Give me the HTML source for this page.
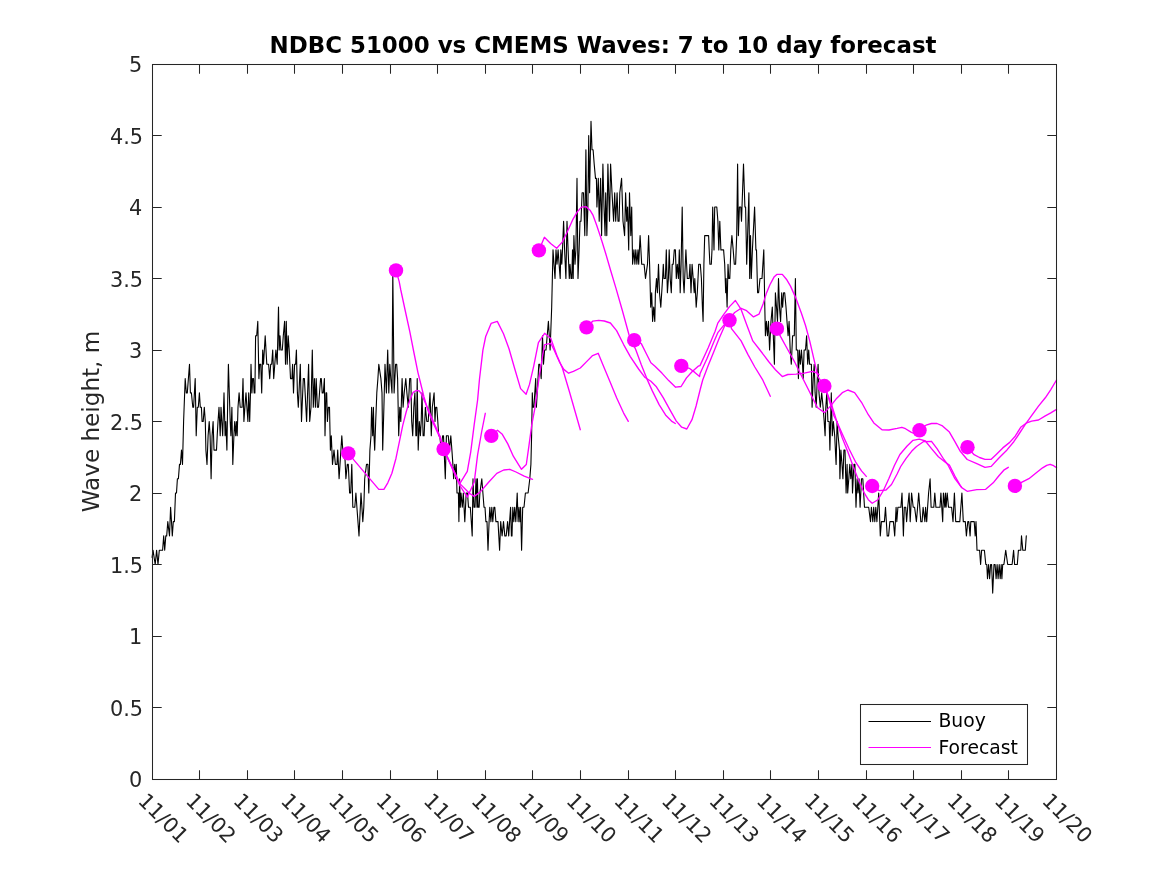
<!DOCTYPE html>
<html lang="en"><head><meta charset="utf-8"><title>NDBC 51000 vs CMEMS Waves: 7 to 10 day forecast</title>
<style>html,body{margin:0;padding:0;background:#fff}body{width:1167px;height:875px;overflow:hidden}</style></head>
<body>
<svg width="1167" height="875" viewBox="0 0 1167 875" style="display:block">
<rect width="1167" height="875" fill="#fff"/>
<path d="M152.1,557.4 153.0,550.2 155.2,564.5 156.6,550.2 158.0,564.5 159.3,550.2 162.6,550.2 163.7,535.9 164.7,550.2 165.8,535.9 166.7,535.9 167.8,521.6 169.5,535.9 170.6,507.3 171.5,521.6 172.3,535.9 173.3,521.6 174.4,521.6 175.5,493.0 176.5,493.0 177.4,478.7 178.4,478.7 179.5,464.4 180.4,464.4 181.5,450.1 182.5,464.4 183.6,421.5 185.2,378.6 186.3,392.9 187.3,392.9 189.5,364.3 190.4,392.9 191.4,392.9 192.8,407.2 193.6,407.2 195.2,378.6 196.2,435.8 197.3,407.2 198.3,407.2 199.4,392.9 200.3,407.2 201.4,407.2 202.1,421.5 203.2,421.5 204.3,407.2 205.3,421.5 205.9,450.1 207.0,464.4 208.1,435.8 209.2,421.5 210.1,435.8 211.1,478.7 212.1,435.8 213.1,421.5 214.0,450.1 216.5,450.1 217.2,435.8 218.0,421.5 219.0,407.2 220.2,435.8 221.0,407.2 221.8,421.5 222.7,435.8 224.0,392.9 225.1,435.8 225.8,421.5 226.9,450.1 227.6,407.2 228.4,364.3 230.2,421.5 230.9,435.8 231.9,407.2 232.8,464.4 233.9,435.8 234.7,421.5 235.7,435.8 236.4,421.5 237.2,435.8 238.0,407.2 239.1,392.9 240.2,407.2 242.1,407.2 243.0,378.6 243.9,421.5 244.9,407.2 246.0,392.9 246.9,407.2 247.9,421.5 248.7,392.9 249.7,421.5 250.5,392.9 251.0,364.3 251.9,392.9 252.6,378.6 253.5,378.6 254.2,392.9 254.9,392.9 255.6,335.7 256.7,335.7 257.8,321.4 258.9,378.6 259.7,364.3 260.8,364.3 261.7,392.9 262.7,350.0 263.5,364.3 265.2,335.7 266.8,364.3 268.6,364.3 269.7,378.6 270.7,364.3 271.7,364.3 272.7,350.0 273.7,378.6 274.8,364.3 275.9,350.0 277.2,364.3 278.5,307.1 279.2,350.0 280.0,335.7 280.9,350.0 282.3,350.0 283.3,335.7 284.6,321.4 285.5,364.3 286.3,321.4 287.2,364.3 288.2,335.7 289.2,350.0 290.5,378.6 291.9,378.6 292.6,364.3 293.5,392.9 294.6,364.3 295.6,364.3 296.4,350.0 297.4,392.9 298.3,407.2 300.3,364.3 301.5,421.5 303.3,378.6 304.4,378.6 306.6,421.5 308.6,364.3 309.7,421.5 311.0,407.2 312.3,350.0 313.3,407.2 314.4,378.6 315.4,407.2 316.2,378.6 317.4,407.2 318.5,407.2 319.5,392.9 320.6,378.6 321.3,378.6 322.2,392.9 323.3,392.9 324.4,378.6 325.0,435.8 326.0,392.9 326.7,392.9 327.4,421.5 328.4,407.2 329.5,407.2 330.4,450.1 331.3,435.8 332.5,464.4 334.0,450.1 335.4,464.4 337.0,464.4 337.7,450.1 339.1,478.7 340.0,464.4 340.9,450.1 341.8,435.8 342.8,450.1 344.6,450.1 345.9,478.7 347.3,464.4 348.3,464.4 349.6,493.0 350.7,493.0 351.8,464.4 352.8,507.3 354.8,507.3 355.9,493.0 356.9,507.3 359.0,535.9 361.0,493.0 362.8,521.6 363.8,507.3 364.7,478.7 366.5,464.4 367.9,464.4 368.8,493.0 369.9,450.1 371.0,435.8 371.6,407.2 372.7,435.8 373.4,407.2 374.0,435.8 374.7,450.1 375.7,421.5 376.8,392.9 377.9,378.6 378.8,364.3 380.9,378.6 382.0,392.9 382.7,450.1 383.9,407.2 385.0,364.3 386.4,392.9 387.7,350.0 388.8,392.9 389.8,364.3 390.8,378.6 392.0,392.9 392.8,271.4 394.1,392.9 395.6,364.3 396.7,364.3 397.6,378.6 398.7,435.8 399.8,407.2 400.8,421.5 402.1,378.6 403.1,407.2 404.2,392.9 405.8,378.6 406.9,392.9 408.3,407.2 409.7,378.6 410.8,378.6 411.7,421.5 412.7,435.8 413.8,407.2 414.9,392.9 415.9,435.8 416.5,435.8 417.2,378.6 418.2,450.1 419.3,421.5 420.4,435.8 421.2,421.5 422.0,392.9 423.1,435.8 424.1,435.8 425.4,407.2 426.8,421.5 428.2,421.5 430.0,392.9 431.3,435.8 432.3,407.2 434.1,392.9 435.0,421.5 435.7,407.2 436.8,407.2 437.8,421.5 438.7,435.8 439.8,435.8 441.2,450.1 442.6,435.8 443.5,435.8 445.3,478.7 446.4,435.8 447.4,435.8 448.3,435.8 449.4,450.1 450.8,435.8 451.9,450.1 452.9,464.4 453.6,478.7 454.7,464.4 455.6,478.7 456.3,464.4 457.0,493.0 458.4,493.0 458.9,521.6 459.6,478.7 460.3,507.3 461.0,493.0 462.3,507.3 463.3,493.0 464.8,521.6 466.2,493.0 467.5,493.0 468.5,507.3 470.3,507.3 471.3,521.6 472.2,535.9 473.0,478.7 474.0,507.3 475.0,507.3 476.0,478.7 477.0,507.3 477.4,478.7 478.1,507.3 479.1,507.3 479.9,493.0 481.8,478.7 482.9,493.0 484.0,507.3 485.0,507.3 485.9,521.6 487.0,521.6 488.0,550.2 489.1,521.6 489.8,507.3 490.9,521.6 491.8,507.3 492.8,521.6 493.9,507.3 494.8,507.3 495.9,521.6 498.0,521.6 499.6,550.2 500.7,521.6 502.1,535.9 503.5,521.6 504.8,535.9 506.2,535.9 507.6,521.6 508.7,535.9 509.6,521.6 510.6,507.3 511.4,535.9 512.0,535.9 512.8,507.3 513.8,521.6 514.7,507.3 515.8,521.6 516.5,507.3 517.2,493.0 518.1,521.6 519.0,507.3 519.9,521.6 520.6,507.3 521.6,550.2 522.7,507.3 524.0,507.3 525.4,493.0 528.1,493.0 529.8,478.7 530.9,464.4 531.6,435.8 532.3,392.9 532.9,407.2 533.9,407.2 535.7,378.6 536.4,407.2 538.8,364.3 539.8,364.3 541.2,378.6 542.5,335.7 543.5,364.3 544.6,350.0 546.0,350.0 548.4,321.4 550.1,350.0 551.7,307.1 553.0,249.9 554.0,264.2 555.0,278.5 556.0,249.9 557.0,264.2 558.1,249.9 559.1,264.2 560.2,278.5 560.8,249.9 561.8,264.2 562.5,249.9 563.6,221.3 564.6,249.9 565.9,278.5 567.0,221.3 568.1,249.9 569.3,278.5 570.0,264.2 571.1,278.5 571.8,278.5 572.5,249.9 573.2,278.5 573.9,235.6 575.0,264.2 575.9,249.9 577.0,178.4 578.0,278.5 579.1,249.9 580.0,221.3 581.0,221.3 582.1,192.7 583.5,192.7 584.8,235.6 585.9,149.8 586.9,235.6 587.9,207.0 588.7,135.5 589.6,192.7 591.0,121.2 592.0,149.8 593.1,149.8 594.2,164.1 595.5,178.4 596.4,178.4 596.9,207.0 598.3,178.4 599.2,221.3 600.6,178.4 601.6,235.6 602.9,164.1 604.0,207.0 605.1,235.6 605.7,192.7 606.8,235.6 607.9,164.1 609.5,221.3 610.6,164.1 612.0,192.7 613.6,221.3 614.7,192.7 615.7,221.3 617.1,192.7 618.0,221.3 619.1,221.3 619.8,192.7 621.6,178.4 623.0,221.3 624.6,235.6 625.6,192.7 626.7,221.3 627.6,207.0 628.7,249.9 629.5,192.7 630.8,235.6 631.7,207.0 632.6,264.2 633.9,249.9 634.9,264.2 635.8,249.9 636.9,264.2 638.0,249.9 638.7,264.2 640.1,235.6 641.7,264.2 644.1,264.2 645.5,278.5 647.5,264.2 648.6,235.6 649.6,264.2 650.7,307.1 651.7,292.8 652.6,321.4 653.7,307.1 654.8,321.4 655.4,292.8 656.5,278.5 657.4,292.8 658.5,264.2 659.5,292.8 660.8,307.1 662.6,278.5 663.3,264.2 664.0,278.5 665.4,278.5 666.3,249.9 667.4,292.8 668.4,278.5 669.2,249.9 670.2,278.5 671.3,292.8 672.2,264.2 673.2,264.2 674.3,249.9 675.4,249.9 676.3,278.5 677.3,264.2 678.4,278.5 679.3,249.9 680.2,292.8 681.1,264.2 682.2,207.0 683.2,278.5 684.1,292.8 685.9,249.9 687.3,278.5 689.1,278.5 690.0,264.2 691.0,292.8 692.1,264.2 693.2,278.5 694.2,292.8 694.8,278.5 695.5,292.8 696.2,307.1 697.3,292.8 698.7,264.2 700.3,264.2 701.4,278.5 702.4,307.1 703.1,321.4 703.9,264.2 704.7,235.6 708.6,235.6 709.2,249.9 709.9,264.2 711.3,264.2 712.0,249.9 712.7,207.0 714.0,249.9 714.7,207.0 716.8,207.0 717.9,221.3 718.8,249.9 719.8,221.3 720.9,249.9 723.6,249.9 724.7,264.2 725.7,292.8 726.1,278.5 727.1,307.1 728.0,264.2 728.8,278.5 729.8,278.5 730.8,249.9 731.9,235.6 733.2,249.9 734.3,264.2 735.6,264.2 736.7,235.6 737.6,164.1 738.4,235.6 739.4,207.0 740.8,207.0 741.5,221.3 743.5,164.1 744.9,207.0 745.6,207.0 746.7,264.2 747.6,235.6 748.9,192.7 749.7,278.5 750.5,235.6 751.3,278.5 752.4,249.9 754.6,207.0 755.9,249.9 756.5,249.9 757.6,292.8 758.6,292.8 760.0,278.5 762.0,278.5 763.8,249.9 764.8,307.1 765.4,335.7 766.4,321.4 767.5,335.7 768.5,321.4 769.6,350.0 771.0,321.4 772.3,307.1 773.3,335.7 774.4,364.3 775.4,292.8 776.5,307.1 777.5,321.4 778.5,278.5 779.5,307.1 780.6,321.4 781.7,292.8 782.6,307.1 783.6,292.8 784.7,292.8 786.0,307.1 787.0,321.4 788.1,335.7 789.1,321.4 790.2,350.0 791.3,364.3 792.6,335.7 794.3,335.7 795.4,278.5 796.3,350.0 797.7,350.0 798.4,378.6 799.3,350.0 800.4,364.3 801.4,350.0 802.5,364.3 803.2,378.6 804.1,350.0 805.5,350.0 806.6,335.7 807.7,364.3 808.7,350.0 809.6,364.3 811.4,364.3 812.1,407.2 813.2,378.6 814.2,364.3 815.1,392.9 816.2,407.2 817.3,378.6 818.1,364.3 819.0,392.9 820.3,407.2 821.7,392.9 823.1,407.2 824.2,421.5 825.1,435.8 825.8,407.2 826.8,392.9 827.9,421.5 829.2,421.5 829.9,450.1 830.6,421.5 831.3,392.9 832.3,435.8 833.4,421.5 834.7,435.8 836.1,464.4 837.1,421.5 838.1,435.8 839.5,450.1 839.9,478.7 840.9,450.1 842.0,464.4 842.9,478.7 843.9,450.1 845.0,450.1 846.1,493.0 847.1,464.4 847.7,493.0 848.8,478.7 849.8,464.4 850.8,478.7 851.9,464.4 852.5,493.0 853.9,464.4 854.9,464.4 856.0,507.3 857.1,478.7 858.0,493.0 859.0,478.7 860.1,507.3 861.5,478.7 862.8,478.7 864.5,507.3 868.7,507.3 870.5,521.6 871.4,507.3 872.8,521.6 873.7,507.3 874.8,521.6 875.8,507.3 876.9,521.6 878.7,493.0 880.3,535.9 881.4,521.6 884.4,521.6 885.5,507.3 887.2,535.9 888.6,535.9 889.9,521.6 893.4,521.6 894.7,535.9 896.1,507.3 896.8,521.6 897.9,507.3 900.9,507.3 902.0,493.0 903.4,535.9 904.3,507.3 905.7,507.3 906.6,521.6 907.7,507.3 909.1,493.0 910.2,521.6 911.6,493.0 913.2,507.3 914.6,507.3 916.4,521.6 917.6,507.3 918.7,493.0 920.8,521.6 922.1,521.6 923.1,507.3 924.9,521.6 925.6,507.3 926.7,521.6 927.6,507.3 928.6,493.0 930.1,478.7 931.1,507.3 933.8,507.3 934.8,493.0 935.9,507.3 940.0,507.3 940.9,493.0 942.7,521.6 943.4,493.0 944.8,507.3 945.4,493.0 946.1,507.3 947.2,493.0 948.5,507.3 951.6,507.3 953.0,521.6 954.4,493.0 955.7,521.6 959.8,521.6 961.9,493.0 963.3,521.6 965.3,521.6 966.4,535.9 967.8,521.6 968.8,521.6 970.1,535.9 970.8,521.6 974.2,521.6 975.2,535.9 976.0,521.6 977.0,550.2 979.0,550.2 979.6,550.2 980.6,564.5 981.6,550.2 984.4,550.2 985.8,564.5 986.8,564.5 987.5,578.8 988.6,564.5 989.6,578.8 990.6,564.5 991.6,564.5 992.7,593.1 994.0,564.5 995.1,564.5 996.1,578.8 997.1,564.5 998.1,578.8 999.2,564.5 1000.2,578.8 1001.2,564.5 1001.9,578.8 1002.7,564.5 1003.9,564.5 1005.7,550.2 1007.7,564.5 1012.1,564.5 1013.6,550.2 1014.6,564.5 1017.3,564.5 1018.4,550.2 1020.8,550.2 1021.5,535.9 1022.8,550.2 1025.3,550.2 1026.3,535.9" fill="none" stroke="#000" stroke-width="1.1" stroke-linejoin="round" stroke-linecap="round"/>
<g fill="none" stroke="#f0f" stroke-width="1.35" stroke-linejoin="round" stroke-linecap="round">
<polyline points="348.3,453.4 378.8,489.4 383.9,489.4 387.8,482.8 391.9,473.2 396.0,458.2 399.4,441.7 402.8,425.2 406.3,411.5 409.7,400.6 413.1,392.3 416.6,390.3 419.3,391.0 421.3,393.7 439.9,436.2 443.6,449.1 459.8,485.5 467.3,497.1 474.2,482.3 477.6,454.9 481.7,431.5 485.3,413.3"/>
<polyline points="396.0,270.4 399.2,281.6 400.8,290.0 405.3,311.0 409.7,331.1 413.8,352.0 417.9,372.3 419.3,378.0 424.0,397.0 428.0,410.5 432.0,420.5 439.9,437.6 443.6,449.1 459.8,483.6 469.4,493.3 474.2,496.4 480.3,491.9 488.6,482.3 496.8,473.4 503.7,470.0 509.8,469.3 516.0,472.0 524.2,476.1 532.5,479.3"/>
<polyline points="443.6,449.1 459.8,483.6 467.3,471.3 470.7,452.1 474.2,424.7 477.6,400.0 479.5,379.0 482.9,350.2 485.7,336.5 491.1,323.4 497.3,321.4 503.5,333.7 509.0,348.8 514.5,368.0 520.6,388.6 526.1,394.3 529.5,384.4 533.6,366.6 538.4,342.6 544.6,333.3 550.8,338.5 556.9,355.6 562.4,368.0 569.3,391.3 574.8,410.5 580.3,429.7"/>
<polyline points="491.3,435.9 497.5,430.2 502.3,434.3 507.8,443.9 513.3,456.2 521.5,469.3 526.3,464.5 529.0,445.3 531.8,424.7 535.0,407.7 539.1,377.6 543.3,351.5 544.6,344.7 550.8,343.3 554.2,350.2 559.7,362.5 563.8,369.4 568.6,373.2 573.4,371.4 580.3,368.0 587.1,361.1 592.6,355.6 598.2,353.3 602.9,364.8 609.8,381.3 616.6,397.7 623.5,412.8 628.3,421.3"/>
<polyline points="538.9,250.4 544.4,237.3 550.6,243.5 556.7,248.3 562.2,242.1 567.0,232.5 572.5,220.2 577.3,211.9 581.4,207.1 586.2,206.7 590.3,210.6 593.1,215.4 596.5,224.7 600.6,237.0 605.7,253.5 610.8,271.0 616.0,288.4 622.2,310.0 629.0,334.7 635.8,349.8 641.3,364.8 646.8,378.6 652.3,390.9 659.1,404.6 666.0,415.6 671.5,421.1 675.3,423.5"/>
<polyline points="586.5,327.4 592.6,321.2 598.8,320.3 604.3,321.0 610.4,323.0 616.6,330.6 623.5,344.3 630.3,356.6 638.6,369.0 644.7,377.2 650.9,381.3 656.4,386.8 663.2,397.7 670.1,410.1 676.3,421.1 681.7,427.2 686.8,429.0 692.0,419.7 696.1,406.0 700.2,389.5 702.7,380.0 708.2,365.6 713.7,351.9 719.2,338.2 724.7,325.8"/>
<polyline points="634.2,340.2 641.3,343.6 646.1,353.2 650.9,362.8 655.0,366.2 661.9,373.1 668.7,380.6 675.6,387.2 681.1,386.5 686.5,377.9 692.0,371.7 698.2,366.2 700.0,365.6 708.2,347.8 715.1,331.3 717.8,323.1 723.6,314.6 729.5,306.6 735.4,300.5 741.1,309.4 746.6,324.5 752.8,340.9 760.3,350.5 768.6,361.5 775.4,369.7 782.3,376.6 787.8,374.5 796.0,374.2 804.2,373.1 812.4,371.3 816.9,373.0 819.0,374.5"/>
<polyline points="681.3,365.9 689.3,368.3 694.8,372.4 699.6,376.5 700.0,373.8 706.9,358.7 713.7,342.3 717.8,332.7 723.3,325.8 729.5,320.3 731.5,328.6 741.1,340.9 748.0,354.6 754.8,367.0 762.4,379.3 770.3,396.3"/>
<polyline points="729.5,320.3 734.3,312.8 741.1,308.3 746.6,310.7 753.5,316.9 759.0,314.2 763.1,303.9 766.5,292.9 769.9,284.7 774.0,277.1 776.8,274.4 782.3,274.4 786.4,279.2 790.5,286.1 796.0,298.4 801.5,313.5 805.6,325.8 809.7,340.9 813.8,358.7 817.9,376.6 824.4,386.0 828.6,398.2 834.0,416.0 836.8,421.5 842.3,433.9 849.1,449.0 856.0,462.7 861.5,470.9 866.3,476.4"/>
<polyline points="776.9,328.7 780.6,336.6 787.4,349.0 794.3,361.3 801.1,375.0 808.0,388.7 814.8,402.4 817.6,407.8 824.5,412.6 831.3,405.1 836.8,398.2 842.3,392.7 847.8,390.0 854.6,392.7 861.5,402.3 868.3,414.7 873.8,422.9 882.0,429.8 888.9,430.0 897.1,428.4 901.9,427.3 905.5,428.7 911.0,432.1 914.0,433.5"/>
<polyline points="824.4,386.0 831.3,403.7 836.8,421.5 842.3,438.0 847.8,451.7 853.3,466.8 858.7,480.5 864.2,492.9 868.3,499.7 872.2,503.3 877.9,499.7 883.4,490.5 888.9,478.5 894.4,465.5 899.9,454.5 906.9,446.3 913.0,440.3 919.2,439.2 925.4,441.0 931.5,448.6 938.4,456.8 945.3,462.3 949.4,465.0 954.9,476.0 960.3,485.6 961.4,487.0"/>
<polyline points="872.2,486.0 879.2,490.6 886.0,490.0 891.5,484.5 897.1,474.0 900.7,466.5 906.1,458.3 911.6,451.3 916.5,446.5 923.3,441.7 931.5,441.3 937.0,448.6 943.9,459.5 948.0,465.0 954.9,478.7 961.7,487.6 967.2,491.3 976.8,489.7 985.7,489.3 993.2,482.8 998.7,476.0 1004.2,469.8 1008.3,467.3"/>
<polyline points="919.5,430.3 926.0,425.2 931.5,423.5 937.0,423.5 942.5,425.9 949.4,432.1 954.9,441.7 960.3,451.3 967.2,459.5 976.8,463.6 985.0,467.3 991.2,466.4 998.7,458.2 1007.0,449.9 1013.8,441.7 1019.3,433.5 1024.8,425.2 1031.6,415.7 1038.5,406.1 1045.3,397.8 1050.8,389.6 1056.5,380.0"/>
<polyline points="967.5,447.2 974.1,454.7 979.5,457.5 985.0,459.3 991.2,459.3 996.0,454.7 1002.8,447.9 1009.7,442.4 1015.2,436.2 1020.7,427.3 1026.1,423.2 1031.6,421.1 1038.5,420.0 1045.3,415.9 1050.8,412.9 1056.5,409.4"/>
<polyline points="1014.9,485.9 1022.0,482.2 1028.9,478.7 1035.7,473.2 1042.6,467.8 1046.7,465.3 1050.1,464.3 1053.6,465.7 1056.5,467.6"/>
</g>
<g fill="#f0f" stroke="none">
<circle cx="348.3" cy="453.4" r="7.2"/>
<circle cx="396.0" cy="270.4" r="7.2"/>
<circle cx="443.6" cy="449.1" r="7.2"/>
<circle cx="491.3" cy="435.9" r="7.2"/>
<circle cx="538.9" cy="250.4" r="7.2"/>
<circle cx="586.5" cy="327.4" r="7.2"/>
<circle cx="634.2" cy="340.2" r="7.2"/>
<circle cx="681.3" cy="365.9" r="7.2"/>
<circle cx="729.5" cy="320.3" r="7.2"/>
<circle cx="776.9" cy="328.7" r="7.2"/>
<circle cx="824.4" cy="386.0" r="7.2"/>
<circle cx="872.2" cy="486.0" r="7.2"/>
<circle cx="919.5" cy="430.3" r="7.2"/>
<circle cx="967.5" cy="447.2" r="7.2"/>
<circle cx="1014.9" cy="485.9" r="7.2"/>
</g>
<g stroke="#262626" stroke-width="1.04" fill="none" shape-rendering="auto">
<rect x="152.5" y="64.5" width="904.0" height="715.0"/>
<path d="M199.5 779.5v-9.2M199.5 64.5v9.2M247.5 779.5v-9.2M247.5 64.5v9.2M294.5 779.5v-9.2M294.5 64.5v9.2M342.5 779.5v-9.2M342.5 64.5v9.2M390.5 779.5v-9.2M390.5 64.5v9.2M437.5 779.5v-9.2M437.5 64.5v9.2M485.5 779.5v-9.2M485.5 64.5v9.2M532.5 779.5v-9.2M532.5 64.5v9.2M580.5 779.5v-9.2M580.5 64.5v9.2M628.5 779.5v-9.2M628.5 64.5v9.2M675.5 779.5v-9.2M675.5 64.5v9.2M723.5 779.5v-9.2M723.5 64.5v9.2M770.5 779.5v-9.2M770.5 64.5v9.2M818.5 779.5v-9.2M818.5 64.5v9.2M866.5 779.5v-9.2M866.5 64.5v9.2M913.5 779.5v-9.2M913.5 64.5v9.2M961.5 779.5v-9.2M961.5 64.5v9.2M1008.5 779.5v-9.2M1008.5 64.5v9.2M152.5 707.5h9.2M1056.5 707.5h-9.2M152.5 636.5h9.2M1056.5 636.5h-9.2M152.5 564.5h9.2M1056.5 564.5h-9.2M152.5 493.5h9.2M1056.5 493.5h-9.2M152.5 421.5h9.2M1056.5 421.5h-9.2M152.5 350.5h9.2M1056.5 350.5h-9.2M152.5 278.5h9.2M1056.5 278.5h-9.2M152.5 207.5h9.2M1056.5 207.5h-9.2M152.5 135.5h9.2M1056.5 135.5h-9.2"/>
</g>
<g font-family="'DejaVu Sans', 'Liberation Sans', sans-serif" font-size="20.83" fill="#262626">
<text x="142.2" y="787.1" text-anchor="end">0</text>
<text x="143.0" y="715.6" text-anchor="end">0.5</text>
<text x="142.2" y="644.1" text-anchor="end">1</text>
<text x="143.0" y="572.6" text-anchor="end">1.5</text>
<text x="142.2" y="501.1" text-anchor="end">2</text>
<text x="143.0" y="429.6" text-anchor="end">2.5</text>
<text x="142.2" y="358.1" text-anchor="end">3</text>
<text x="143.0" y="286.6" text-anchor="end">3.5</text>
<text x="142.2" y="215.1" text-anchor="end">4</text>
<text x="143.0" y="143.6" text-anchor="end">4.5</text>
<text x="142.2" y="72.1" text-anchor="end">5</text>
<text transform="translate(137.1,801.9) rotate(45)" x="0" y="0">11/01</text>
<text transform="translate(184.7,801.9) rotate(45)" x="0" y="0">11/02</text>
<text transform="translate(232.3,801.9) rotate(45)" x="0" y="0">11/03</text>
<text transform="translate(279.8,801.9) rotate(45)" x="0" y="0">11/04</text>
<text transform="translate(327.4,801.9) rotate(45)" x="0" y="0">11/05</text>
<text transform="translate(375.0,801.9) rotate(45)" x="0" y="0">11/06</text>
<text transform="translate(422.6,801.9) rotate(45)" x="0" y="0">11/07</text>
<text transform="translate(470.2,801.9) rotate(45)" x="0" y="0">11/08</text>
<text transform="translate(517.7,801.9) rotate(45)" x="0" y="0">11/09</text>
<text transform="translate(565.3,801.9) rotate(45)" x="0" y="0">11/10</text>
<text transform="translate(612.9,801.9) rotate(45)" x="0" y="0">11/11</text>
<text transform="translate(660.5,801.9) rotate(45)" x="0" y="0">11/12</text>
<text transform="translate(708.0,801.9) rotate(45)" x="0" y="0">11/13</text>
<text transform="translate(755.6,801.9) rotate(45)" x="0" y="0">11/14</text>
<text transform="translate(803.2,801.9) rotate(45)" x="0" y="0">11/15</text>
<text transform="translate(850.8,801.9) rotate(45)" x="0" y="0">11/16</text>
<text transform="translate(898.4,801.9) rotate(45)" x="0" y="0">11/17</text>
<text transform="translate(945.9,801.9) rotate(45)" x="0" y="0">11/18</text>
<text transform="translate(993.5,801.9) rotate(45)" x="0" y="0">11/19</text>
<text transform="translate(1041.1,801.9) rotate(45)" x="0" y="0">11/20</text>
<text transform="translate(98.5,421.5) rotate(-90)" text-anchor="middle" font-size="23.1">Wave height, m</text>
</g>
<text x="603.0" y="52.5" text-anchor="middle" font-family="'DejaVu Sans', 'Liberation Sans', sans-serif" font-weight="bold" font-size="22.92" fill="#000">NDBC 51000 vs CMEMS Waves: 7 to 10 day forecast</text>
<g><rect x="860.5" y="704.5" width="167" height="60" fill="#fff" stroke="#262626" stroke-width="1.04"/>
<path d="M868.5 721.5h62.5" stroke="#000" stroke-width="1.04"/><path d="M868.5 747.5h62.5" stroke="#f0f" stroke-width="1.04"/>
<g font-family="'DejaVu Sans', 'Liberation Sans', sans-serif" font-size="18.75" fill="#000"><text x="938.5" y="726.7">Buoy</text><text x="938.5" y="754">Forecast</text></g></g>
</svg>
</body></html>
